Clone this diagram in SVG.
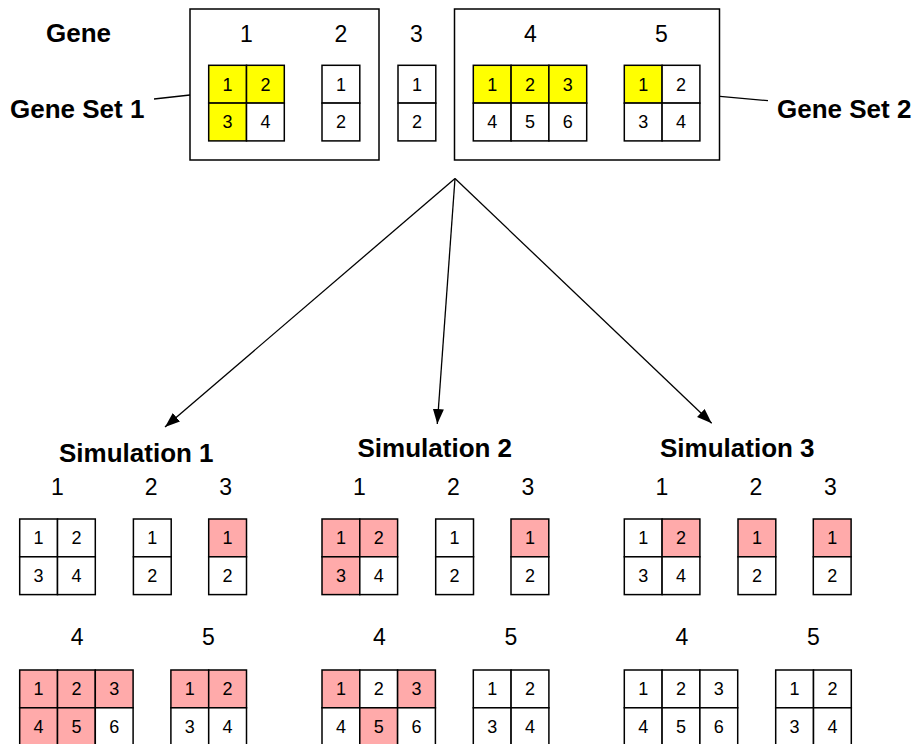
<svg xmlns="http://www.w3.org/2000/svg" width="918" height="744" viewBox="0 0 918 744">
  <style>
    text { font-family: "Liberation Sans", Arial, Helvetica, sans-serif; fill: #000; }
    .title { font-size: 26px; font-weight: bold; }
    .glbl { font-size: 23px; text-anchor: middle; }
    .num { font-size: 18px; text-anchor: middle; }
    .cell { fill: #fff; stroke: #000; stroke-width: 1.5; }
    .y { fill: #ffff00; }
    .p { fill: #ffaaaa; }
    .frame { fill: none; stroke: #000; stroke-width: 1.5; }
    .lead { stroke: #000; stroke-width: 1.3; fill: none; }
    .arrow { stroke: #000; stroke-width: 1.3; fill: none; marker-end: url(#head); }
  </style>
  <defs>
    <marker id="head" markerUnits="userSpaceOnUse" markerWidth="16" markerHeight="12" refX="15" refY="5.5" orient="auto">
      <path d="M0,0 L15,5.5 L0,11 z" fill="#000"/>
    </marker>
  </defs>

  <rect width="918" height="744" fill="#fff"/>

  <!-- header labels -->
  <text class="title" x="46" y="42">Gene</text>
  <text class="glbl" x="246.5" y="42">1</text>
  <text class="glbl" x="341" y="42">2</text>
  <text class="glbl" x="416.5" y="42">3</text>
  <text class="glbl" x="530.5" y="42">4</text>
  <text class="glbl" x="661.5" y="42">5</text>

  <!-- Gene Set 1 -->
  <g id="gene-set-1">
    <rect class="frame" x="190" y="9" width="189" height="151"/>
    <text class="title" x="10" y="118">Gene Set 1</text>
  </g>
  <!-- Gene Set 2 -->
  <g id="gene-set-2">
    <rect class="frame" x="454.5" y="9" width="265" height="151"/>
    <text class="title" x="777" y="118">Gene Set 2</text>
  </g>

  <g id="top-gene-1">
    <rect class="cell y" x="208.7" y="65.3" width="37.8" height="37.8"/>
    <rect class="cell y" x="246.5" y="65.3" width="37.8" height="37.8"/>
    <rect class="cell y" x="208.7" y="103.1" width="37.8" height="37.8"/>
    <rect class="cell" x="246.5" y="103.1" width="37.8" height="37.8"/>
    <text class="num" x="227.6" y="90.5">1</text>
    <text class="num" x="265.4" y="90.5">2</text>
    <text class="num" x="227.6" y="128.3">3</text>
    <text class="num" x="265.4" y="128.3">4</text>
  </g>
  <g id="top-gene-2">
    <rect class="cell" x="322" y="65.3" width="37.8" height="37.8"/>
    <rect class="cell" x="322" y="103.1" width="37.8" height="37.8"/>
    <text class="num" x="340.9" y="90.5">1</text>
    <text class="num" x="340.9" y="128.3">2</text>
  </g>
  <g id="top-gene-3">
    <rect class="cell" x="398" y="65.3" width="37.8" height="37.8"/>
    <rect class="cell" x="398" y="103.1" width="37.8" height="37.8"/>
    <text class="num" x="416.9" y="90.5">1</text>
    <text class="num" x="416.9" y="128.3">2</text>
  </g>
  <g id="top-gene-4">
    <rect class="cell y" x="473.3" y="65.3" width="37.8" height="37.8"/>
    <rect class="cell y" x="511.1" y="65.3" width="37.8" height="37.8"/>
    <rect class="cell y" x="548.9" y="65.3" width="37.8" height="37.8"/>
    <rect class="cell" x="473.3" y="103.1" width="37.8" height="37.8"/>
    <rect class="cell" x="511.1" y="103.1" width="37.8" height="37.8"/>
    <rect class="cell" x="548.9" y="103.1" width="37.8" height="37.8"/>
    <text class="num" x="492.2" y="90.5">1</text>
    <text class="num" x="530" y="90.5">2</text>
    <text class="num" x="567.8" y="90.5">3</text>
    <text class="num" x="492.2" y="128.3">4</text>
    <text class="num" x="530" y="128.3">5</text>
    <text class="num" x="567.8" y="128.3">6</text>
  </g>
  <g id="top-gene-5">
    <rect class="cell y" x="624.3" y="65.3" width="37.8" height="37.8"/>
    <rect class="cell" x="662.1" y="65.3" width="37.8" height="37.8"/>
    <rect class="cell" x="624.3" y="103.1" width="37.8" height="37.8"/>
    <rect class="cell" x="662.1" y="103.1" width="37.8" height="37.8"/>
    <text class="num" x="643.2" y="90.5">1</text>
    <text class="num" x="681" y="90.5">2</text>
    <text class="num" x="643.2" y="128.3">3</text>
    <text class="num" x="681" y="128.3">4</text>
  </g>

  <!-- connectors -->
  <g id="connectors">
    <line class="lead" x1="154" y1="99" x2="190" y2="95"/>
    <line class="lead" x1="720" y1="96.3" x2="768" y2="100.7"/>
    <line class="arrow" x1="455" y1="178.5" x2="165" y2="427"/>
    <line class="arrow" x1="455" y1="178.5" x2="437.3" y2="424"/>
    <line class="arrow" x1="455" y1="178.5" x2="711.7" y2="423.3"/>
  </g>

  <!-- Simulation 1 -->
  <g id="simulation-1">
    <text class="title" x="59" y="461.5">Simulation 1</text>
    <text class="glbl" x="57.3" y="495">1</text>
    <text class="glbl" x="151.2" y="495">2</text>
    <text class="glbl" x="225.7" y="495">3</text>
    <text class="glbl" x="77.2" y="645">4</text>
    <text class="glbl" x="208.5" y="645">5</text>
    <g id="sim1-gene-1">
      <rect class="cell" x="19.7" y="519" width="37.8" height="37.8"/>
      <rect class="cell" x="57.5" y="519" width="37.8" height="37.8"/>
      <rect class="cell" x="19.7" y="556.8" width="37.8" height="37.8"/>
      <rect class="cell" x="57.5" y="556.8" width="37.8" height="37.8"/>
      <text class="num" x="38.6" y="544.2">1</text>
      <text class="num" x="76.4" y="544.2">2</text>
      <text class="num" x="38.6" y="582">3</text>
      <text class="num" x="76.4" y="582">4</text>
    </g>
    <g id="sim1-gene-2">
      <rect class="cell" x="133.4" y="519" width="37.8" height="37.8"/>
      <rect class="cell" x="133.4" y="556.8" width="37.8" height="37.8"/>
      <text class="num" x="152.3" y="544.2">1</text>
      <text class="num" x="152.3" y="582">2</text>
    </g>
    <g id="sim1-gene-3">
      <rect class="cell p" x="208.7" y="519" width="37.8" height="37.8"/>
      <rect class="cell" x="208.7" y="556.8" width="37.8" height="37.8"/>
      <text class="num" x="227.6" y="544.2">1</text>
      <text class="num" x="227.6" y="582">2</text>
    </g>
    <g id="sim1-gene-4">
      <rect class="cell p" x="19.7" y="670" width="37.8" height="37.8"/>
      <rect class="cell p" x="57.5" y="670" width="37.8" height="37.8"/>
      <rect class="cell p" x="95.3" y="670" width="37.8" height="37.8"/>
      <rect class="cell p" x="19.7" y="707.8" width="37.8" height="37.8"/>
      <rect class="cell p" x="57.5" y="707.8" width="37.8" height="37.8"/>
      <rect class="cell" x="95.3" y="707.8" width="37.8" height="37.8"/>
      <text class="num" x="38.6" y="695.2">1</text>
      <text class="num" x="76.4" y="695.2">2</text>
      <text class="num" x="114.2" y="695.2">3</text>
      <text class="num" x="38.6" y="733">4</text>
      <text class="num" x="76.4" y="733">5</text>
      <text class="num" x="114.2" y="733">6</text>
    </g>
    <g id="sim1-gene-5">
      <rect class="cell p" x="170.9" y="670" width="37.8" height="37.8"/>
      <rect class="cell p" x="208.7" y="670" width="37.8" height="37.8"/>
      <rect class="cell" x="170.9" y="707.8" width="37.8" height="37.8"/>
      <rect class="cell" x="208.7" y="707.8" width="37.8" height="37.8"/>
      <text class="num" x="189.8" y="695.2">1</text>
      <text class="num" x="227.6" y="695.2">2</text>
      <text class="num" x="189.8" y="733">3</text>
      <text class="num" x="227.6" y="733">4</text>
    </g>
  </g>

  <!-- Simulation 2 -->
  <g id="simulation-2">
    <text class="title" x="357.5" y="457">Simulation 2</text>
    <text class="glbl" x="359.5" y="495">1</text>
    <text class="glbl" x="453.5" y="495">2</text>
    <text class="glbl" x="528" y="495">3</text>
    <text class="glbl" x="379.5" y="645">4</text>
    <text class="glbl" x="511" y="645">5</text>
    <g id="sim2-gene-1">
      <rect class="cell p" x="322" y="519" width="37.8" height="37.8"/>
      <rect class="cell p" x="359.8" y="519" width="37.8" height="37.8"/>
      <rect class="cell p" x="322" y="556.8" width="37.8" height="37.8"/>
      <rect class="cell" x="359.8" y="556.8" width="37.8" height="37.8"/>
      <text class="num" x="340.9" y="544.2">1</text>
      <text class="num" x="378.7" y="544.2">2</text>
      <text class="num" x="340.9" y="582">3</text>
      <text class="num" x="378.7" y="582">4</text>
    </g>
    <g id="sim2-gene-2">
      <rect class="cell" x="435.7" y="519" width="37.8" height="37.8"/>
      <rect class="cell" x="435.7" y="556.8" width="37.8" height="37.8"/>
      <text class="num" x="454.6" y="544.2">1</text>
      <text class="num" x="454.6" y="582">2</text>
    </g>
    <g id="sim2-gene-3">
      <rect class="cell p" x="511" y="519" width="37.8" height="37.8"/>
      <rect class="cell" x="511" y="556.8" width="37.8" height="37.8"/>
      <text class="num" x="529.9" y="544.2">1</text>
      <text class="num" x="529.9" y="582">2</text>
    </g>
    <g id="sim2-gene-4">
      <rect class="cell p" x="322" y="670" width="37.8" height="37.8"/>
      <rect class="cell" x="359.8" y="670" width="37.8" height="37.8"/>
      <rect class="cell p" x="397.6" y="670" width="37.8" height="37.8"/>
      <rect class="cell" x="322" y="707.8" width="37.8" height="37.8"/>
      <rect class="cell p" x="359.8" y="707.8" width="37.8" height="37.8"/>
      <rect class="cell" x="397.6" y="707.8" width="37.8" height="37.8"/>
      <text class="num" x="340.9" y="695.2">1</text>
      <text class="num" x="378.7" y="695.2">2</text>
      <text class="num" x="416.5" y="695.2">3</text>
      <text class="num" x="340.9" y="733">4</text>
      <text class="num" x="378.7" y="733">5</text>
      <text class="num" x="416.5" y="733">6</text>
    </g>
    <g id="sim2-gene-5">
      <rect class="cell" x="473.3" y="670" width="37.8" height="37.8"/>
      <rect class="cell" x="511.1" y="670" width="37.8" height="37.8"/>
      <rect class="cell" x="473.3" y="707.8" width="37.8" height="37.8"/>
      <rect class="cell" x="511.1" y="707.8" width="37.8" height="37.8"/>
      <text class="num" x="492.2" y="695.2">1</text>
      <text class="num" x="530" y="695.2">2</text>
      <text class="num" x="492.2" y="733">3</text>
      <text class="num" x="530" y="733">4</text>
    </g>
  </g>

  <!-- Simulation 3 -->
  <g id="simulation-3">
    <text class="title" x="660" y="457">Simulation 3</text>
    <text class="glbl" x="661.8" y="495">1</text>
    <text class="glbl" x="755.8" y="495">2</text>
    <text class="glbl" x="830.3" y="495">3</text>
    <text class="glbl" x="681.8" y="645">4</text>
    <text class="glbl" x="813.3" y="645">5</text>
    <g id="sim3-gene-1">
      <rect class="cell" x="624.3" y="519" width="37.8" height="37.8"/>
      <rect class="cell p" x="662.1" y="519" width="37.8" height="37.8"/>
      <rect class="cell" x="624.3" y="556.8" width="37.8" height="37.8"/>
      <rect class="cell" x="662.1" y="556.8" width="37.8" height="37.8"/>
      <text class="num" x="643.2" y="544.2">1</text>
      <text class="num" x="681" y="544.2">2</text>
      <text class="num" x="643.2" y="582">3</text>
      <text class="num" x="681" y="582">4</text>
    </g>
    <g id="sim3-gene-2">
      <rect class="cell p" x="738" y="519" width="37.8" height="37.8"/>
      <rect class="cell" x="738" y="556.8" width="37.8" height="37.8"/>
      <text class="num" x="756.9" y="544.2">1</text>
      <text class="num" x="756.9" y="582">2</text>
    </g>
    <g id="sim3-gene-3">
      <rect class="cell p" x="813.3" y="519" width="37.8" height="37.8"/>
      <rect class="cell" x="813.3" y="556.8" width="37.8" height="37.8"/>
      <text class="num" x="832.2" y="544.2">1</text>
      <text class="num" x="832.2" y="582">2</text>
    </g>
    <g id="sim3-gene-4">
      <rect class="cell" x="624.3" y="670" width="37.8" height="37.8"/>
      <rect class="cell" x="662.1" y="670" width="37.8" height="37.8"/>
      <rect class="cell" x="699.9" y="670" width="37.8" height="37.8"/>
      <rect class="cell" x="624.3" y="707.8" width="37.8" height="37.8"/>
      <rect class="cell" x="662.1" y="707.8" width="37.8" height="37.8"/>
      <rect class="cell" x="699.9" y="707.8" width="37.8" height="37.8"/>
      <text class="num" x="643.2" y="695.2">1</text>
      <text class="num" x="681" y="695.2">2</text>
      <text class="num" x="718.8" y="695.2">3</text>
      <text class="num" x="643.2" y="733">4</text>
      <text class="num" x="681" y="733">5</text>
      <text class="num" x="718.8" y="733">6</text>
    </g>
    <g id="sim3-gene-5">
      <rect class="cell" x="775.7" y="670" width="37.8" height="37.8"/>
      <rect class="cell" x="813.5" y="670" width="37.8" height="37.8"/>
      <rect class="cell" x="775.7" y="707.8" width="37.8" height="37.8"/>
      <rect class="cell" x="813.5" y="707.8" width="37.8" height="37.8"/>
      <text class="num" x="794.6" y="695.2">1</text>
      <text class="num" x="832.4" y="695.2">2</text>
      <text class="num" x="794.6" y="733">3</text>
      <text class="num" x="832.4" y="733">4</text>
    </g>
  </g>
</svg>
